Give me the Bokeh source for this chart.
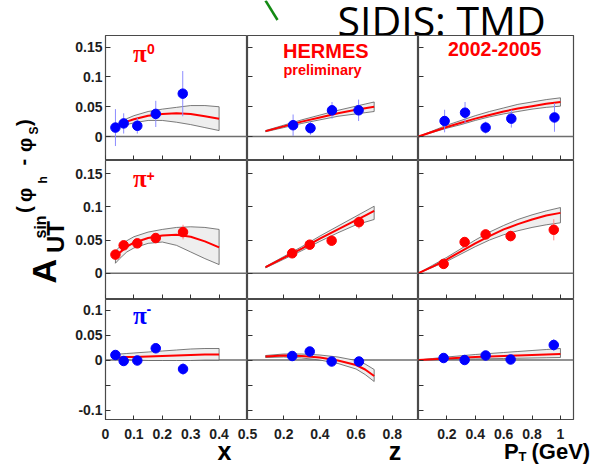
import numpy as np
from bokeh.plotting import figure
from bokeh.models import (Range1d, FixedTicker, Span, Label, Arrow, GridBox,
                          ColumnDataSource, LinearAxis)
from bokeh.embed import file_html
from bokeh.resources import INLINE

# ---------------- data ----------------
# pi0
pi0_x = [0.035, 0.064, 0.112, 0.177, 0.272]
pi0_x_a = [0.015, 0.022, 0.018, 0.038, 0.072]
pi0_x_e = [0.031, 0.017, 0.013, 0.022, 0.038]
pi0_z = [0.252, 0.348, 0.467, 0.614]
pi0_z_a = [0.019, 0.014, 0.044, 0.044]
pi0_z_e = [0.018, 0.011, 0.014, 0.018]
pi0_pt = [0.184, 0.328, 0.473, 0.654, 0.958]
pi0_pt_a = [0.026, 0.040, 0.015, 0.030, 0.032]
pi0_pt_e = [0.019, 0.018, 0.010, 0.015, 0.024]
# pi+
pip_x = [0.035, 0.064, 0.112, 0.177, 0.273]
pip_x_a = [0.028, 0.042, 0.045, 0.053, 0.062]
pip_x_e = [0.006, 0.005, 0.005, 0.006, 0.011]
pip_z = [0.247, 0.344, 0.465, 0.616]
pip_z_a = [0.030, 0.043, 0.049, 0.077]
pip_z_e = [0.005, 0.005, 0.006, 0.010]
pip_pt = [0.177, 0.325, 0.473, 0.649, 0.953]
pip_pt_a = [0.014, 0.047, 0.0585, 0.056, 0.0655]
pip_pt_e = [0.007, 0.007, 0.007, 0.008, 0.016]
# pi-
pim_x = [0.035, 0.064, 0.112, 0.177, 0.273]
pim_x_a = [0.010, -0.002, -0.001, 0.0235, -0.018]
pim_x_e = [0.008, 0.007, 0.007, 0.008, 0.012]
pim_z = [0.247, 0.344, 0.465, 0.616]
pim_z_a = [0.008, 0.017, -0.003, -0.003]
pim_z_e = [0.006, 0.007, 0.007, 0.008]
pim_pt = [0.177, 0.325, 0.473, 0.649, 0.953]
pim_pt_a = [0.004, 0.0, 0.009, 0.001, 0.030]
pim_pt_e = [0.006, 0.006, 0.006, 0.006, 0.012]

# model curves with uncertainty bands
fit_x = [0.035, 0.05, 0.075, 0.1, 0.15, 0.2, 0.25, 0.3, 0.35, 0.4]
fit_z = [0.1, 0.2, 0.3, 0.4, 0.5, 0.6, 0.65, 0.7]
fit_pt = [0.0, 0.1, 0.2, 0.3, 0.4, 0.5, 0.6, 0.7, 0.8, 0.9, 1.0]

pi0_x_fit = [0.016, 0.020, 0.025, 0.029, 0.035, 0.038, 0.039, 0.038, 0.034, 0.030]
pi0_x_hi = [0.019, 0.024, 0.030, 0.035, 0.042, 0.046, 0.049, 0.052, 0.052, 0.050]
pi0_x_lo = [0.012, 0.016, 0.020, 0.023, 0.027, 0.027, 0.024, 0.020, 0.015, 0.010]
pi0_z_fit = [0.009, 0.017, 0.025, 0.032, 0.039, 0.045, 0.0475, 0.050]
pi0_z_hi = [0.010, 0.019, 0.028, 0.036, 0.044, 0.051, 0.0545, 0.058]
pi0_z_lo = [0.008, 0.015, 0.022, 0.028, 0.034, 0.038, 0.040, 0.042]
pi0_pt_fit = [0.0, 0.008, 0.016, 0.023, 0.030, 0.036, 0.042, 0.047, 0.051, 0.055, 0.058]
pi0_pt_hi = [0.0, 0.0095, 0.019, 0.027, 0.035, 0.042, 0.048, 0.054, 0.058, 0.062, 0.065]
pi0_pt_lo = [0.0, 0.007, 0.014, 0.020, 0.027, 0.033, 0.038, 0.042, 0.046, 0.049, 0.051]

pip_x_fit = [0.025, 0.031, 0.040, 0.046, 0.053, 0.057, 0.058, 0.055, 0.048, 0.039]
pip_x_hi = [0.033, 0.040, 0.049, 0.055, 0.062, 0.066, 0.069, 0.070, 0.069, 0.066]
pip_x_lo = [0.015, 0.022, 0.032, 0.038, 0.045, 0.047, 0.042, 0.032, 0.022, 0.013]
pip_z_fit = [0.009, 0.023, 0.037, 0.052, 0.066, 0.080, 0.087, 0.094]
pip_z_hi = [0.010, 0.025, 0.040, 0.056, 0.071, 0.086, 0.0935, 0.101]
pip_z_lo = [0.008, 0.021, 0.034, 0.048, 0.061, 0.073, 0.077, 0.081]
pip_pt_fit = [0.0, 0.010, 0.021, 0.033, 0.045, 0.056, 0.066, 0.074, 0.081, 0.087, 0.091]
pip_pt_hi = [0.0, 0.012, 0.024, 0.037, 0.050, 0.062, 0.072, 0.081, 0.088, 0.094, 0.099]
pip_pt_lo = [0.0, 0.009, 0.018, 0.029, 0.040, 0.050, 0.058, 0.064, 0.069, 0.073, 0.076]

pim_x_fit = [0.005, 0.005, 0.006, 0.006, 0.007, 0.008, 0.009, 0.010, 0.011, 0.011]
pim_x_hi = [0.011, 0.012, 0.013, 0.014, 0.016, 0.018, 0.020, 0.022, 0.023, 0.023]
pim_x_lo = [0.001, 0.001, 0.001, 0.000, -0.001, -0.001, -0.001, -0.001, 0.000, 0.000]
pim_z_fit = [0.007, 0.009, 0.008, 0.005, -0.001, -0.010, -0.019, -0.032]
pim_z_hi = [0.009, 0.012, 0.012, 0.010, 0.006, -0.001, -0.008, -0.019]
pim_z_lo = [0.005, 0.006, 0.004, 0.000, -0.007, -0.018, -0.029, -0.043]
pim_pt_fit = [0.0, 0.0015, 0.003, 0.0045, 0.006, 0.007, 0.008, 0.009, 0.010, 0.011, 0.012]
pim_pt_hi = [0.0, 0.003, 0.006, 0.0085, 0.011, 0.013, 0.015, 0.017, 0.019, 0.021, 0.023]
pim_pt_lo = [0.0, 0.0005, 0.001, 0.0015, 0.002, 0.0025, 0.003, 0.0035, 0.004, 0.0045, 0.005]

# axis ticks / labels
x_ticks = [0.0, 0.1, 0.2, 0.3, 0.4, 0.5]
x_tick_labels = ["0", "0.1", "0.2", "0.3", "0.4", "0.5"]
z_ticks = [0.2, 0.4, 0.6, 0.8]
z_tick_labels = ["0.2", "0.4", "0.6", "0.8"]
pt_ticks = [0.2, 0.4, 0.6, 0.8, 1.0]
pt_tick_labels = ["0.2", "0.4", "0.6", "0.8", "1"]
y_ticks_top = [0.0, 0.05, 0.1, 0.15]
y_tick_labels_top = ["0", "0.05", "0.1", "0.15"]
y_ticks_bot = [-0.1, -0.05, 0.0, 0.05, 0.1]
y_tick_labels_bot = ["-0.1", "", "0", "0.05", "0.1"]

# ---------------- layout (page pixels) ----------------
PAGE_W, PAGE_H = 590, 465
TITLE_W = 70                    # column holding the rotated y title
COL_LEFT = [105, 247, 418]      # frame left edges
FRAME_W = [142, 171, 155]
ROW_TOP = [35, 160, 299]        # frame top edges
FRAME_H = [125, 139, 121]
TOP_H = ROW_TOP[0]
BOT_H = PAGE_H - (ROW_TOP[2] + FRAME_H[2])
LEFT_B = COL_LEFT[0] - TITLE_W
RIGHT_B = PAGE_W - (COL_LEFT[2] + FRAME_W[2])

XR = [(0.0, 0.5), (0.0, 0.945), (0.0, 1.092)]
YR = [(-0.0403, 0.1697), (-0.0397, 0.170), (-0.121, 0.121)]
XT = [(x_ticks, x_tick_labels), (z_ticks, z_tick_labels), (pt_ticks, pt_tick_labels)]
YT = [(y_ticks_top, y_tick_labels_top), (y_ticks_top, y_tick_labels_top), (y_ticks_bot, y_tick_labels_bot)]

RED = "#ff0000"
BLUE = "#0000ff"
FONT = "Liberation Sans"
TICK_COLOR = "#1e1e1e"
# distance from the middle of a text line to its baseline, in em
MID_TO_BASE = {"Liberation Sans": 0.3465, "Liberation Serif": 0.3375, "Open Sans": 0.388}

rows = [
    [(pi0_x, pi0_x_a, pi0_x_e, fit_x, pi0_x_fit, pi0_x_hi, pi0_x_lo),
     (pi0_z, pi0_z_a, pi0_z_e, fit_z, pi0_z_fit, pi0_z_hi, pi0_z_lo),
     (pi0_pt, pi0_pt_a, pi0_pt_e, fit_pt, pi0_pt_fit, pi0_pt_hi, pi0_pt_lo)],
    [(pip_x, pip_x_a, pip_x_e, fit_x, pip_x_fit, pip_x_hi, pip_x_lo),
     (pip_z, pip_z_a, pip_z_e, fit_z, pip_z_fit, pip_z_hi, pip_z_lo),
     (pip_pt, pip_pt_a, pip_pt_e, fit_pt, pip_pt_fit, pip_pt_hi, pip_pt_lo)],
    [(pim_x, pim_x_a, pim_x_e, fit_x, pim_x_fit, pim_x_hi, pim_x_lo),
     (pim_z, pim_z_a, pim_z_e, fit_z, pim_z_fit, pim_z_hi, pim_z_lo),
     (pim_pt, pim_pt_a, pim_pt_e, fit_pt, pim_pt_fit, pim_pt_hi, pim_pt_lo)],
]
row_colors = [(BLUE, "#8c8cff"), (RED, "#ff8c8c"), (BLUE, "#8c8cff")]

figs = [[None] * 3 for _ in range(3)]


def panel_data(r, c, X, Y):
    x0, x1 = XR[c]
    y0, y1 = YR[r]
    dx = x0 + (X - COL_LEFT[c]) / FRAME_W[c] * (x1 - x0)
    dy = y1 - (Y - ROW_TOP[r]) / FRAME_H[r] * (y1 - y0)
    return dx, dy


def text_spec(X, Y, size, font=FONT, rotated=False):
    """X, Y = start of the baseline on the page; returns page point of the line middle."""
    off = MID_TO_BASE[font] * size
    if rotated:
        return X - off, Y
    return X, Y - off


def make_label(x, y, text, size, font=FONT, style="bold", color="black", align="left", angle=0.0):
    return Label(x=x, y=y, text=text, angle=angle, text_font=font, text_font_size="%gpx" % size,
                 text_font_style=style, text_color=color, text_align=align, text_baseline="middle")


def put_panel(cells, X, Y, text, size, font=FONT, style="bold", color="black", align="left"):
    mx, my = text_spec(X, Y, size, font)
    for (r, c) in cells:
        dx, dy = panel_data(r, c, mx, my)
        figs[r][c].add_layout(make_label(dx, dy, text, size, font, style, color, align))


def plain_fig(w, h):
    f = figure(frame_width=w, frame_height=h, x_range=Range1d(0, w), y_range=Range1d(0, h),
               output_backend="svg", toolbar_location=None,
               x_axis_location=None, y_axis_location=None,
               min_border_left=0, min_border_right=0, min_border_top=0, min_border_bottom=0,
               background_fill_color="white", border_fill_color="white")
    f.grid.visible = False
    f.outline_line_color = None
    return f


# ---------------- panels ----------------
for r in range(3):
    for c in range(3):
        w = FRAME_W[c] + (LEFT_B if c == 0 else 0) + (RIGHT_B if c == 2 else 0)
        h = FRAME_H[r]
        p = figure(width=w, height=h, x_range=Range1d(*XR[c]), y_range=Range1d(*YR[r]),
                   output_backend="svg", toolbar_location=None,
                   min_border_left=LEFT_B if c == 0 else 0,
                   min_border_right=RIGHT_B if c == 2 else 0,
                   min_border_top=0, min_border_bottom=0,
                   background_fill_color="white", border_fill_color="white")
        p.grid.visible = False
        p.outline_line_color = "#4a4a4a"
        p.outline_line_width = 1.2

        xa = p.xaxis[0]
        ya = p.yaxis[0]
        xt, xl = XT[c]
        yt, yl = YT[r]
        xa.ticker = FixedTicker(ticks=xt)
        ya.ticker = FixedTicker(ticks=yt)
        ya.major_label_overrides = {t: l for t, l in zip(yt, yl)}
        for ax in (xa, ya):
            ax.major_tick_in = 5
            ax.major_tick_out = 0
            ax.minor_tick_line_color = None
            ax.axis_line_color = None
            ax.major_tick_line_color = "#333333"
            ax.major_tick_line_width = 1
            ax.major_label_text_font = FONT
            ax.major_label_text_font_style = "bold"
            ax.major_label_text_font_size = "14px"
            ax.major_label_text_color = TICK_COLOR
        ya.major_label_standoff = 3
        # x tick labels are drawn by the strip below; here only inward ticks
        xa.fixed_location = YR[r][0]
        xa.major_label_text_color = None
        if c != 0:
            ya.fixed_location = XR[c][0]
            ya.major_label_text_color = None

        p.add_layout(Span(location=0, dimension="width", line_color="#6e6e6e",
                          line_width=1.5, level="underlay"))

        pts, val, err, cx, cfit, chi, clo = rows[r][c]
        pcol, ecol = row_colors[r]
        p.patch(list(cx) + list(cx)[::-1], list(chi) + list(clo)[::-1],
                fill_color="#eeeeee", line_color="#5a5a5a", line_width=0.8)
        p.line(cx, cfit, line_color=RED, line_width=2)
        src = ColumnDataSource(dict(x=pts, y=val,
                                    lo=[v - e for v, e in zip(val, err)],
                                    hi=[v + e for v, e in zip(val, err)]))
        p.segment(x0="x", y0="lo", x1="x", y1="hi", source=src, line_color=ecol, line_width=1)
        p.scatter(x="x", y="y", source=src, size=9.5, fill_color=pcol, line_color=pcol)
        figs[r][c] = p

# particle labels
put_panel([(0, 0)], 132.5, 61.5, "\u03c0", 25, font="Liberation Serif", color=RED)
put_panel([(0, 0)], 146.5, 53.5, "0", 14, color=RED)
put_panel([(1, 0)], 132.5, 186.5, "\u03c0", 25, font="Liberation Serif", color=RED)
put_panel([(1, 0)], 146.0, 180.0, "+", 14, color=RED)
put_panel([(2, 0)], 132.5, 323.5, "\u03c0", 25, font="Liberation Serif", color=BLUE)
put_panel([(2, 0)], 146.0, 313.5, "-", 14, color=BLUE)

put_panel([(0, 1)], 282.5, 57.5, "HERMES", 20, color=RED)
put_panel([(0, 1)], 283.0, 75.0, "preliminary", 14.5, color=RED)
put_panel([(0, 2)], 447.5, 55.5, "2002-2005", 19.5, color=RED)

# ---------------- top strip: slide title + green pointer ----------------
SIDIS_X, SIDIS_Y, SIDIS_FS = 337.0, 35.5, 41
top = plain_fig(PAGE_W, TOP_H)
mx, my = text_spec(SIDIS_X, SIDIS_Y, SIDIS_FS, "Open Sans")
top.add_layout(make_label(mx, TOP_H - my, "SIDIS: TMD", SIDIS_FS, font="Open Sans", style="normal"))
top.add_layout(Arrow(x_start=265.0, y_start=TOP_H - 0.0, x_end=277.0, y_end=TOP_H - 19.5, end=None,
                     line_color="#138a13", line_width=2.5))

# ---------------- y title column ----------------
ytf = plain_fig(TITLE_W, sum(FRAME_H))
Y_BASE = ROW_TOP[0] + sum(FRAME_H)
ang = np.pi / 2
ytitle_parts = [
    (55.5, 283.0, "A", 34),
    (63.5, 252.5, "UT", 24),
    (45.5, 238.0, "sin", 16),
    (30.0, 212.5, "(", 20),
    (31.0, 201.5, "\u03c6", 20),
    (47.0, 183.0, "h", 12),
    (29.0, 165.0, "-", 20),
    (31.0, 151.5, "\u03c6", 20),
    (37.5, 134.0, "S", 12),
    (30.0, 125.5, ")", 20),
]
for X, Y, t, fs in ytitle_parts:
    mx, my = text_spec(X, Y, fs, rotated=True)
    ytf.add_layout(make_label(mx, Y_BASE - my, t, fs, angle=ang))

# ---------------- bottom strip: x tick labels and axis titles ----------------
bot = plain_fig(PAGE_W, BOT_H)
for c in range(3):
    x0, x1 = XR[c]
    a = x0 - COL_LEFT[c] / FRAME_W[c] * (x1 - x0)
    b = x0 + (PAGE_W - COL_LEFT[c]) / FRAME_W[c] * (x1 - x0)
    name = "col%d" % c
    bot.extra_x_ranges[name] = Range1d(a, b)
    xt, xl = XT[c]
    ax = LinearAxis(x_range_name=name, ticker=FixedTicker(ticks=xt),
                    major_label_overrides={t: l for t, l in zip(xt, xl)},
                    fixed_location=BOT_H, major_tick_in=0, major_tick_out=0,
                    minor_tick_line_color=None, axis_line_color=None,
                    major_tick_line_color=None, major_label_standoff=8,
                    major_label_text_font=FONT, major_label_text_font_style="bold",
                    major_label_text_font_size="14px", major_label_text_color=TICK_COLOR)
    bot.add_layout(ax, "below")


def put_bot(X, Y, text, size, align="left"):
    mx, my = text_spec(X, Y, size)
    bot.add_layout(make_label(mx, PAGE_H - my, text, size, align=align))


put_bot(224.0, 459.5, "x", 25, align="center")
put_bot(394.5, 459.5, "z", 25, align="center")
put_bot(503.5, 459.0, "P", 22)
put_bot(518.0, 461.0, "T", 13)
put_bot(531.0, 459.0, "(GeV)", 22)

children = [(top, 0, 0, 1, 4), (ytf, 1, 0, 3, 1), (bot, 4, 0, 1, 4)]
for r in range(3):
    for c in range(3):
        children.append((figs[r][c], r + 1, c + 1))
grid = GridBox(children=children, spacing=0)

open("out.html", "w").write(file_html(grid, INLINE))
